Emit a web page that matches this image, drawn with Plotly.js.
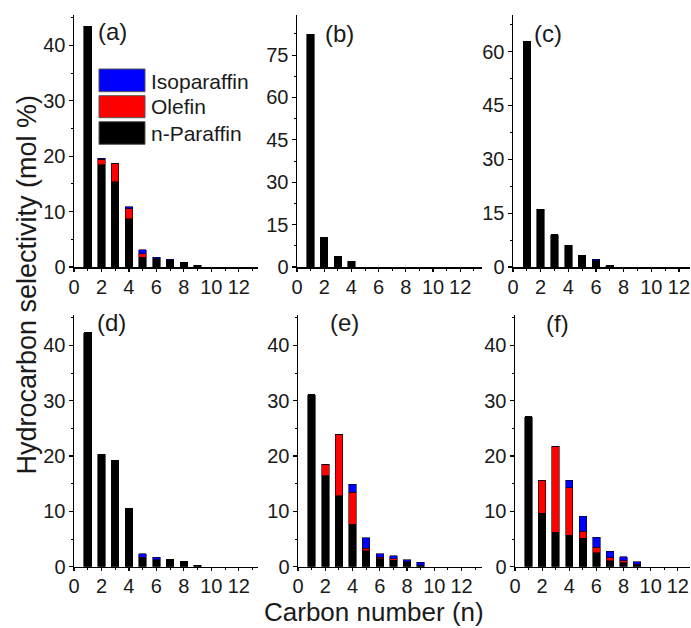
<!DOCTYPE html>
<html>
<head>
<meta charset="utf-8">
<script src="https://cdn.plot.ly/plotly-3.0.1.min.js"></script>
<style>html,body{margin:0;padding:0;background:#fff;overflow:hidden}</style>
</head>
<body>
<div id="chart" style="width:691px;height:628px"></div>
<script>
// ---- data (mol %) ----
const carbonNumbers = [1, 2, 3, 4, 5, 6, 7, 8, 9];

const aParaffin = [43.5, 18.5, 15.4, 8.7, 1.8, 1.4, 1.2, 0.9, 0.3];
const aOlefin   = [0, 1.0, 3.2, 1.8, 0.6, 0.1, 0, 0, 0];
const aIso      = [0, 0.1, 0, 0.4, 0.7, 0.3, 0.2, 0, 0];

const bParaffin = [82.3, 10.3, 3.8, 2.0, 0, 0, 0, 0, 0];
const bOlefin   = [0, 0, 0, 0, 0, 0, 0, 0, 0];
const bIso      = [0, 0, 0, 0, 0, 0, 0, 0, 0];

const cParaffin = [62.8, 16.1, 9.0, 6.0, 3.3, 1.8, 0.4, 0, 0];
const cOlefin   = [0, 0, 0, 0, 0, 0, 0, 0, 0];
const cIso      = [0, 0, 0, 0, 0, 0.3, 0, 0, 0];

const dParaffin = [42.3, 20.3, 19.2, 10.6, 1.5, 1.3, 1.3, 0.9, 0.3];
const dOlefin   = [0, 0, 0, 0, 0.2, 0, 0, 0, 0];
const dIso      = [0, 0, 0, 0, 0.6, 0.4, 0, 0, 0];

const eParaffin = [31.1, 16.4, 12.8, 7.7, 2.9, 1.4, 1.2, 0.9, 0.3];
const eOlefin   = [0, 2.1, 11.1, 5.8, 0.4, 0.3, 0.2, 0, 0];
const eIso      = [0, 0, 0, 1.4, 1.9, 0.6, 0.6, 0.4, 0.5];

const fParaffin = [27.1, 9.7, 6.2, 5.7, 5.1, 2.5, 1.1, 0.7, 0.3];
const fOlefin   = [0, 5.8, 15.6, 8.6, 1.3, 1.0, 0.5, 0.4, 0.1];
const fIso      = [0, 0, 0, 1.3, 2.7, 1.8, 1.2, 0.7, 0.5];

const seriesNames = ['n-Paraffin', 'Olefin', 'Isoparaffin'];
const seriesColors = ['#000000', '#ff0000', '#0000ff'];
const panelLabels = ['(a)', '(b)', '(c)', '(d)', '(e)', '(f)'];
const xTitle = 'Carbon number (n)';
const yTitle = 'Hydrocarbon selectivity (mol %)';

// ---- build ----
const W = 691, H = 628;
const px = v => v / W;
const py = v => 1 - v / H;
const FONT = 'Liberation Sans, Arial, sans-serif';

const panels = [
  {data: [aParaffin, aOlefin, aIso], xd: [74, 258], yd: [267, 15], xr: 13.4, yr: 45.5, dt: 10, mdt: 5, lab: [113, 31]},
  {data: [bParaffin, bOlefin, bIso], xd: [297, 482], yd: [267, 15], xr: 13.6, yr: 89.2, dt: 15, mdt: 7.5, lab: [339, 33]},
  {data: [cParaffin, cOlefin, cIso], xd: [513, 690], yd: [267, 15], xr: 12.8, yr: 70.2, dt: 15, mdt: 7.5, lab: [548, 34]},
  {data: [dParaffin, dOlefin, dIso], xd: [74, 258], yd: [566.7, 315], xr: 13.4, yr: 45.5, dt: 10, mdt: 5, lab: [111, 322]},
  {data: [eParaffin, eOlefin, eIso], xd: [298, 482], yd: [566.7, 315], xr: 13.5, yr: 45.5, dt: 10, mdt: 5, lab: [344, 322]},
  {data: [fParaffin, fOlefin, fIso], xd: [515, 690], yd: [566.7, 315], xr: 12.9, yr: 45.5, dt: 10, mdt: 5, lab: [557, 323]}
];

const traces = [];
const layout = {
  width: W, height: H,
  margin: {l: 0, r: 0, t: 0, b: 0},
  paper_bgcolor: '#ffffff', plot_bgcolor: 'rgba(0,0,0,0)',
  showlegend: false, barmode: 'stack', bargap: 0,
  font: {family: FONT, color: '#1a1a1a'},
  shapes: [], annotations: []
};

panels.forEach((p, i) => {
  const k = i === 0 ? '' : String(i + 1);
  p.data.forEach((vals, s) => {
    traces.push({
      type: 'bar', x: carbonNumbers, y: vals, name: seriesNames[s],
      xaxis: 'x' + k, yaxis: 'y' + k, width: 0.55,
      marker: {color: seriesColors[s], line: {color: '#000', width: 0.6}},
      hoverinfo: 'x+y+name'
    });
  });
  layout['xaxis' + k] = {
    domain: [px(p.xd[0]), px(p.xd[1])], anchor: 'y' + k,
    range: [0, p.xr], tickmode: 'linear', tick0: 0, dtick: 2,
    ticks: 'outside', ticklen: 3, tickwidth: 1.2, tickcolor: '#000',
    ticklabelstandoff: -2,
    minor: {dtick: 1, tick0: 0, ticks: 'outside', ticklen: 2, tickcolor: '#000', tickwidth: 1},
    showline: true, linecolor: '#000', linewidth: 1.5,
    showgrid: false, zeroline: false,
    tickfont: {size: 20, family: FONT, color: '#1a1a1a'}
  };
  layout['yaxis' + k] = {
    domain: [py(p.yd[0]), py(p.yd[1])], anchor: 'x' + k,
    range: [0, p.yr], tickmode: 'linear', tick0: 0, dtick: p.dt,
    ticks: 'outside', ticklen: 4, tickwidth: 1.2, tickcolor: '#000',
    ticklabelstandoff: -1,
    minor: {dtick: p.mdt, tick0: 0, ticks: 'outside', ticklen: 2, tickcolor: '#000', tickwidth: 1},
    showline: true, linecolor: '#000', linewidth: 1.5,
    showgrid: false, zeroline: false,
    tickfont: {size: 20, family: FONT, color: '#1a1a1a'}
  };
  layout.annotations.push({
    xref: 'paper', yref: 'paper', x: px(p.lab[0]), y: py(p.lab[1]),
    xanchor: 'center', yanchor: 'middle', showarrow: false,
    text: panelLabels[i], font: {size: 24, family: FONT, color: '#1a1a1a'}
  });
});

// legend (panel a)
const legendRows = [
  {name: seriesNames[2], color: seriesColors[2], y0: 69, y1: 91.7, ty: 81},
  {name: seriesNames[1], color: seriesColors[1], y0: 95.7, y1: 117.7, ty: 106.5},
  {name: seriesNames[0], color: seriesColors[0], y0: 121.7, y1: 144.3, ty: 133}
];
legendRows.forEach(r => {
  layout.shapes.push({
    type: 'rect', xref: 'paper', yref: 'paper',
    x0: px(99), x1: px(145), y0: py(r.y1), y1: py(r.y0),
    fillcolor: r.color, line: {color: '#555', width: 1}
  });
  layout.annotations.push({
    xref: 'paper', yref: 'paper', x: px(149), y: py(r.ty),
    xanchor: 'left', yanchor: 'middle', showarrow: false,
    text: r.name, font: {size: 21, family: FONT, color: '#1a1a1a'}
  });
});

// global axis titles
layout.annotations.push({
  xref: 'paper', yref: 'paper', x: px(26), y: py(284.5),
  xanchor: 'center', yanchor: 'middle', showarrow: false, textangle: -90,
  text: yTitle, font: {size: 27, family: FONT, color: '#1a1a1a'}
});
layout.annotations.push({
  xref: 'paper', yref: 'paper', x: px(374), y: py(612),
  xanchor: 'center', yanchor: 'middle', showarrow: false,
  text: xTitle, font: {size: 26, family: FONT, color: '#1a1a1a'}
});

Plotly.newPlot('chart', traces, layout, {staticPlot: true, displayModeBar: false});
</script>
</body>
</html>
